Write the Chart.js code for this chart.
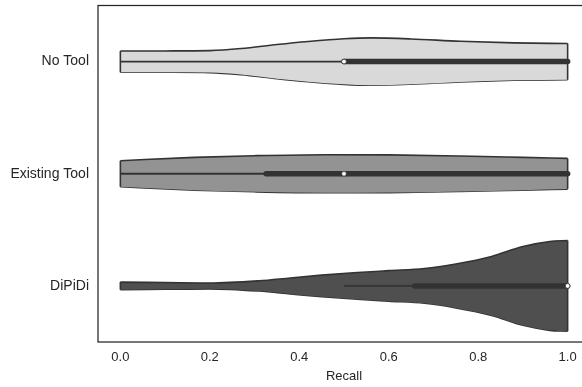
<!DOCTYPE html>
<html>
<head>
<meta charset="utf-8">
<script src="https://cdn.jsdelivr.net/npm/chart.js@4.4.1/dist/chart.umd.min.js"></script>
<style>
  html, body { margin: 0; padding: 0; background: #fff; overflow: hidden; }
  canvas { display: block; }
</style>
</head>
<body>
<canvas id="violinChart" width="600" height="387"></canvas>
<script>
const categories = ["No Tool", "Existing Tool", "DiPiDi"];
const xTicks = [0, 0.2, 0.4, 0.6, 0.8, 1.0];

// violin outlines: recall positions and half widths (in category units)
const noToolRecall = [0, 0.1, 0.2, 0.27, 0.35, 0.42, 0.5, 0.56, 0.65, 0.76, 0.88, 1.0];
const noToolWidth = [0.094, 0.095, 0.098, 0.116, 0.152, 0.179, 0.203, 0.211, 0.202, 0.181, 0.167, 0.161];
const existingRecall = [0, 0.165, 0.3, 0.46, 0.6, 0.76, 0.9, 1.0];
const existingWidth = [0.116, 0.146, 0.161, 0.17, 0.168, 0.158, 0.146, 0.137];
const dipidiRecall = [0, 0.1, 0.2, 0.31, 0.38, 0.45, 0.53, 0.6, 0.68, 0.75, 0.83, 0.9, 0.96, 1.0];
const dipidiWidth = [0.034, 0.03, 0.026, 0.046, 0.071, 0.096, 0.119, 0.136, 0.155, 0.196, 0.263, 0.351, 0.396, 0.404];

// inner box stats
const whiskerLow = [0, 0, 0.5];
const q1 = [0.5, 0.326, 0.658];
const medians = [0.5, 0.5, 1.0];
const q3 = [1.0, 1.0, 1.0];
const whiskerHigh = [1.0, 1.0, 1.0];

const fillColors = ["#d9d9d9", "#939393", "#4f4f4f"];
const lineColor = "#333333";
const textColor = "#262626";
const fontFamily = "'Liberation Sans', Arial, sans-serif";

const outlines = [
  [noToolRecall, noToolWidth],
  [existingRecall, existingWidth],
  [dipidiRecall, dipidiWidth]
];

function line(points, extra) {
  return Object.assign({
    data: points,
    showLine: true,
    pointRadius: 0,
    borderColor: lineColor,
    borderWidth: 1.6,
    fill: false,
    tension: 0
  }, extra);
}

const datasets = [];
outlines.forEach(([recall, width], i) => {
  const upper = recall.map((r, k) => ({ x: r, y: i - width[k] }));
  const lower = recall.map((r, k) => ({ x: r, y: i + width[k] }));
  datasets.push(line(upper, { fill: "+1", backgroundColor: fillColors[i], cubicInterpolationMode: "monotone", order: 3 }));
  datasets.push(line(lower, { cubicInterpolationMode: "monotone", order: 3 }));
  const last = recall.length - 1;
  datasets.push(line([upper[0], lower[0]], { order: 2 }));
  datasets.push(line([upper[last], lower[last]], { order: 2 }));
  // whisker + box
  datasets.push(line([{ x: whiskerLow[i], y: i }, { x: whiskerHigh[i], y: i }], { borderWidth: 1.8, order: 1 }));
  datasets.push(line([{ x: q1[i], y: i }, { x: q3[i], y: i }], { borderWidth: 5.5, borderCapStyle: "round", order: 1 }));
  datasets.push({
    data: [{ x: medians[i], y: i }],
    pointRadius: 2.4,
    pointBackgroundColor: "#ffffff",
    pointBorderColor: lineColor,
    pointBorderWidth: 0.8,
    showLine: false,
    order: 0
  });
});

const framePlugin = {
  id: "frame",
  afterDraw(chart) {
    const { ctx, chartArea: a } = chart;
    ctx.save();
    ctx.strokeStyle = textColor;
    ctx.lineWidth = 1.25;
    ctx.strokeRect(a.left, a.top, a.right - a.left, a.bottom - a.top);
    ctx.restore();
  }
};

function noPad(scale) {
  scale.paddingTop = 0;
  scale.paddingBottom = 0;
  scale.paddingLeft = 0;
  scale.paddingRight = 0;
}

new Chart(document.getElementById("violinChart"), {
  type: "scatter",
  data: { datasets },
  plugins: [framePlugin],
  options: {
    responsive: false,
    animation: false,
    devicePixelRatio: 1,
    events: [],
    layout: { padding: { left: 0, top: 5.5, right: 10, bottom: 0 } },
    plugins: { legend: { display: false }, tooltip: { enabled: false } },
    scales: {
      x: {
        type: "linear",
        min: -0.05,
        max: 1.05,
        afterBuildTicks: axis => { axis.ticks = xTicks.map(v => ({ value: v })); },
        afterFit: scale => { noPad(scale); scale.height = 45; },
        grid: { display: false, drawTicks: false },
        border: { display: false },
        ticks: {
          padding: 8,
          color: textColor,
          font: { family: fontFamily, size: 13 },
          callback: v => v.toFixed(1)
        },
        title: {
          display: true,
          text: "Recall",
          color: textColor,
          font: { family: fontFamily, size: 13 },
          padding: { top: 4, bottom: 2.5 }
        }
      },
      y: {
        type: "linear",
        min: -0.5,
        max: 2.5,
        reverse: true,
        afterBuildTicks: axis => { axis.ticks = categories.map((c, i) => ({ value: i })); },
        afterFit: scale => { noPad(scale); scale.width = 98; },
        grid: { display: false, drawTicks: false },
        border: { display: false },
        ticks: {
          padding: 9,
          color: textColor,
          font: { family: fontFamily, size: 14 },
          callback: v => categories[v]
        }
      }
    }
  }
});
</script>
</body>
</html>
